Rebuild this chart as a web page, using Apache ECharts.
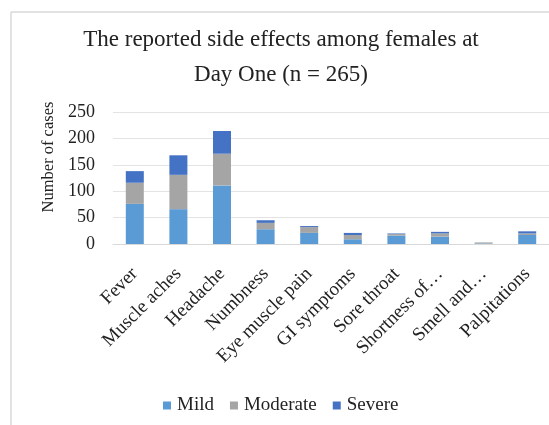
<!DOCTYPE html>
<html>
<head>
<meta charset="utf-8">
<script src="https://cdn.jsdelivr.net/npm/echarts@6/dist/echarts.min.js"></script>
<style>
html,body{margin:0;padding:0;background:#fff;overflow:hidden;}
#chart{width:549px;height:425px;}
</style>
</head>
<body>
<div id="chart"></div>
<script>
const categories = ["Fever","Muscle aches","Headache","Numbness","Eye muscle pain","GI symptoms","Sore throat","Shortness of…","Smell and…","Palpitations"];
const mild     = [76, 66, 111, 28, 21, 9, 16, 14, 1, 17];
const moderate = [40, 65, 60, 12, 11, 8, 3, 6, 2, 3];
const severe   = [22, 37, 43, 5, 2, 4, 1, 3, 0, 4];
const yTicks = [0, 50, 100, 150, 200, 250];

const serif = '"Liberation Serif", "DejaVu Serif", serif';
const chart = echarts.init(document.getElementById('chart'));
const mk = (name, data, color) => ({
  name, type: 'bar', stack: 'total', data, barWidth: 18,
  itemStyle: { color }
});
chart.setOption({
  animation: false,
  title: {
    text: 'The reported side effects among females at\nDay One (n = 265)',
    left: 276, top: 17, textAlign: 'center',
    textStyle: { fontFamily: serif, fontSize: 23, fontWeight: 'normal', color: '#222', lineHeight: 35 }
  },
  graphic: [
    { type: 'line', silent: true, z: -1,
      shape: { x1: 11, y1: 12, x2: 549, y2: 12 },
      style: { stroke: '#d9d9d9', lineWidth: 1.5 } },
    { type: 'line', silent: true, z: -1,
      shape: { x1: 11, y1: 12, x2: 11, y2: 425 },
      style: { stroke: '#d9d9d9', lineWidth: 1.5 } }
  ],
  legend: {
    top: 391, left: 158,
    itemWidth: 8, itemHeight: 8, itemGap: 16,
    icon: 'rect',
    textStyle: { fontFamily: serif, fontSize: 19, color: '#222', padding: [0, 0, 0, 1] },
    data: ['Mild', 'Moderate', 'Severe']
  },
  grid: { left: 113, width: 442, top: 112, height: 132, containLabel: false },
  xAxis: {
    type: 'category', data: categories,
    axisTick: { show: false },
    axisLine: { lineStyle: { color: '#d9d9d9' } },
    axisLabel: { rotate: 45, interval: 0, fontFamily: serif, fontSize: 19, color: '#222', margin: 27 }
  },
  yAxis: {
    type: 'value', min: yTicks[0], max: yTicks[yTicks.length - 1], interval: 50,
    name: 'Number of cases', nameLocation: 'middle', nameGap: 56,
    nameTextStyle: { fontFamily: serif, fontSize: 16.5, color: '#222', padding: [0, 0, 0, 42] },
    axisLine: { show: false }, axisTick: { show: false },
    axisLabel: { fontFamily: serif, fontSize: 18, color: '#222', margin: 18 },
    splitLine: { lineStyle: { color: '#e3e3e3' } }
  },
  series: [
    mk('Mild', mild, '#5b9bd5'),
    mk('Moderate', moderate, '#a5a5a5'),
    mk('Severe', severe, '#4472c4')
  ]
});
</script>
</body>
</html>
